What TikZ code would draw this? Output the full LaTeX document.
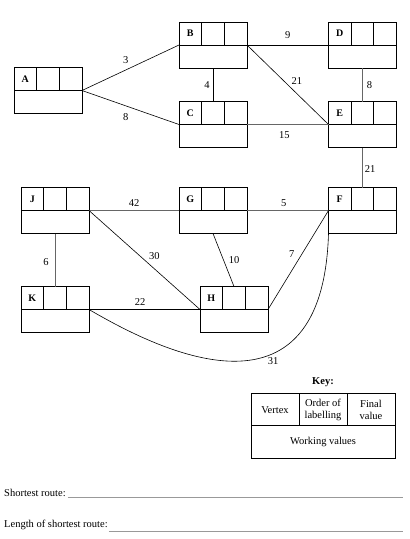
\documentclass[tikz,border=0pt]{standalone}
\usepackage{fontspec}
\setmainfont{Liberation Serif}
\usetikzlibrary{calc}
\tikzset{
  vbox/.style={draw, line width=0.8pt, minimum width=68pt, minimum height=46pt, inner sep=0pt, outer sep=0pt},
  cellline/.style={line width=0.8pt},
  vname/.style={font=\fontsize{10}{12}\selectfont\bfseries, inner sep=0pt},
  edge/.style={line width=0.6pt},
  faint/.style={edge, black!60},
  wt/.style={font=\fontsize{10.5}{12.5}\selectfont, text=black, inner sep=2pt},
  keytext/.style={font=\fontsize{10.5}{12.5}\selectfont, align=center, inner sep=0pt},
  ansline/.style={line width=0.8pt, black!40}
}

\begin{document}
\begin{tikzpicture}[x=1pt, y=-1pt]
\useasboundingbox (0,0) rectangle (410,539);

\node[vbox] (A) at (48,90.5) {};
\node[vbox] (B) at (213,45) {};
\node[vbox] (C) at (213,124.5) {};
\node[vbox] (D) at (362.5,45) {};
\node[vbox] (E) at (362.5,124.5) {};
\node[vbox] (J) at (55,210.5) {};
\node[vbox] (G) at (213,210.5) {};
\node[vbox] (F) at (362.5,210.5) {};
\node[vbox] (K) at (55,309.5) {};
\node[vbox] (H) at (234,309.5) {};

\foreach \v in {A,B,C,D,E,F,G,H,J,K}{
  \draw[cellline] (\v.west) -- (\v.east);
  \draw[cellline] ($(\v.north west)+(22.7,0)$) -- ($(\v.west)+(22.7,0)$);
  \draw[cellline] ($(\v.north west)+(45.3,0)$) -- ($(\v.west)+(45.3,0)$);
  \node[vname] (\v lab) at ($(\v.north west)+(11.3,11.5)$) {\v};
}

\draw[edge] (A.east) -- node[wt, pos=.45, above=4pt] (wAB) {3} (B.west);
\draw[edge] (A.east) -- node[wt, pos=.45, below=5pt] (wAC) {8} (C.west);
\draw[edge] (B.south) -- node[wt, left=1pt] (wBC) {4} (C.north);
\draw[edge] (B.east) -- node[wt, above=4pt] (wBD) {9} (D.west);
\draw[edge] (B.east) -- node[wt, pos=.52, above right=0pt] (wBE) {21} (E.west);
\draw[faint] (C.east) -- node[wt, pos=.46, below=5pt] (wCE) {15} (E.west);
\draw[faint] (D.south) -- node[wt, right=2pt] (wDE) {8} (E.north);
\draw[faint] (E.south) -- node[wt, pos=.55, right=0pt] (wEF) {21} (F.north);
\draw[faint] (J.east) -- node[wt, above=2pt] (wJG) {42} (G.west);
\draw[faint] (G.east) -- node[wt, pos=.45, above=2pt] (wGF) {5} (F.west);
\draw[edge] (J.east) -- node[wt, pos=.52, above right=0pt] (wJH) {30} (H.west);
\draw[edge] (G.south) -- node[wt, right=3pt] (wGH) {10} (H.north);
\draw[edge] (H.east) -- node[wt, pos=.49, above left=1pt] (wHF) {7} (F.west);
\draw[faint] (J.south) -- node[wt, pos=.53, left=4pt] (wJK) {6} (K.north);
\draw[edge] (K.east) -- node[wt, pos=.46, above=2pt] (wKH) {22} (H.west);
\draw[edge] (K.east) .. controls (150,345) and (335,445) .. node[wt, pos=.63, below=2pt] (wKF) {31} (F.west);

% key
\node[font=\fontsize{10.5}{12.5}\selectfont\bfseries, inner sep=0pt] (keyhead) at (323,382.5) {Key:};
\node[vbox, minimum width=144pt, minimum height=65pt] (key) at (323,425.5) {};
\draw[cellline] (key.west) -- (key.east);
\draw[cellline] ($(key.north west)+(48,0)$) -- ($(key.west)+(48,0)$);
\draw[cellline] ($(key.north west)+(96,0)$) -- ($(key.west)+(96,0)$);
\node[keytext] (kv) at (275,410) {Vertex};
\node[keytext] (ko) at (323,410) {Order of\\labelling};
\node[keytext] (kf) at (371,410) {Final\\value};
\node[keytext] (kw) at (323,441.5) {Working values};

% answer lines
\node[keytext, anchor=base west] (sr) at (4,496.5) {Shortest route:};
\coordinate (srend) at (403,497.5);
\draw[ansline] ([xshift=2pt, yshift=-1pt]sr.base east) -- (srend);
\node[keytext, anchor=base west] (lr) at (4,527) {Length of shortest route:};
\coordinate (lrend) at (403,531.5);
\draw[ansline] ([xshift=1pt, yshift=-4.5pt]lr.base east) -- (lrend);
\end{tikzpicture}
\end{document}
